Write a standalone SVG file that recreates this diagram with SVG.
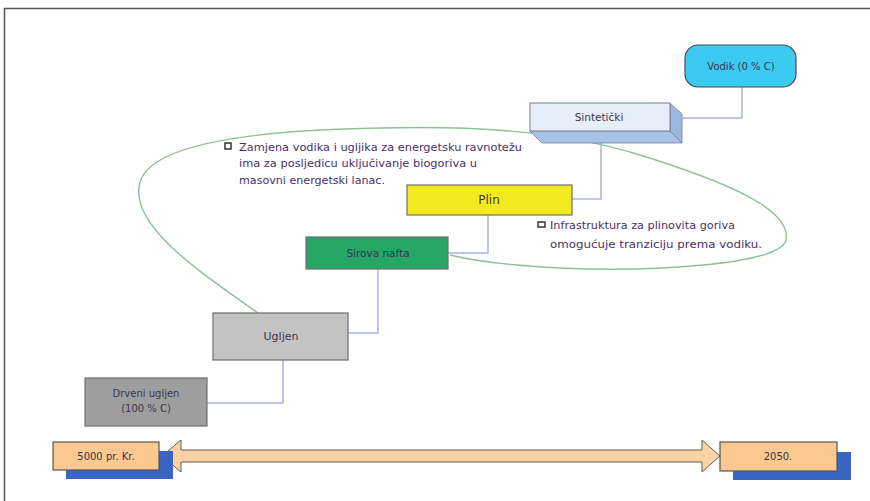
<svg xmlns="http://www.w3.org/2000/svg" width="870" height="501" viewBox="0 0 870 501">
<style>
  .lbl{font-family:"DejaVu Sans",Verdana,sans-serif;font-size:10px;fill:#3a3550;text-anchor:middle}
  .note{font-family:"DejaVu Sans",Verdana,sans-serif;font-size:11px;fill:#4a3070}
  .conn{fill:none;stroke:#a9b2e2;stroke-width:1.5}
  .box{stroke:#6e6e6e;stroke-width:1.2}
  .shadow{fill:#3a64c4}
  .tl{fill:#fbc98f;stroke:#555;stroke-width:1.2}
</style>
<rect x="0" y="0" width="870" height="501" fill="#ffffff"/>
<path d="M4.5,501 V8.5 H870" fill="none" stroke="#555" stroke-width="1.5"/>

<g id="loop">
  <path d="M258,313 C200,272 128,225 140,182 C152,142 260,130 380,128 C470,126 560,130 640,155 C720,180 792,208 786,240 C780,266 640,272 560,268 C500,265 470,260 450,255" fill="none" stroke="#8fbf9c" stroke-width="1.4"/>
</g>

<g id="connectors">
  <path class="conn" d="M742,87 V118 H682"/>
  <path class="conn" d="M601,143 V199 H572"/>
  <path class="conn" d="M488,215 V253 H448"/>
  <path class="conn" d="M378,269 V333 H348"/>
  <path class="conn" d="M283,360 V403 H207"/>
</g>

<g id="vodik">
  <rect x="685" y="45" width="111" height="42" rx="13" fill="#3ccbf0" stroke="#4a4a4a" stroke-width="1.2"/>
  <text class="lbl" x="741" y="70">Vodik (0 % C)</text>
</g>

<g id="sinteticki">
  <polygon points="530,131 670,131 682,143 542,143" fill="#a9c3e8" stroke="#7a8090" stroke-width="0.8"/>
  <polygon points="670,103 682,114 682,143 670,131" fill="#9ab8e0" stroke="#7a8090" stroke-width="0.8"/>
  <rect x="530" y="103" width="140" height="28" fill="#e6eefa" stroke="#7a8090" stroke-width="1"/>
  <text class="lbl" x="599" y="121" style="font-size:10.5px">Sintetički</text>
</g>

<g id="note1">
  <rect x="225" y="143" width="6" height="6" fill="#fff" stroke="#333" stroke-width="1.5"/>
  <text class="note" x="239" y="151" textLength="283" lengthAdjust="spacingAndGlyphs">Zamjena vodika i ugljika za energetsku ravnotežu</text>
  <text class="note" x="239" y="167" textLength="238" lengthAdjust="spacingAndGlyphs">ima za posljedicu uključivanje biogoriva u</text>
  <text class="note" x="239" y="184" textLength="146" lengthAdjust="spacingAndGlyphs">masovni energetski lanac.</text>
</g>

<g id="plin">
  <rect class="box" x="407" y="185" width="165" height="30" fill="#f2ea1e" stroke="#7a7040"/>
  <text class="lbl" x="489" y="204" style="font-size:12px;fill:#4a3a20">Plin</text>
</g>

<g id="note2">
  <rect x="538" y="222" width="7" height="5" fill="#fff" stroke="#333" stroke-width="1.5"/>
  <text class="note" x="550" y="229" textLength="185" lengthAdjust="spacingAndGlyphs">Infrastruktura za plinovita goriva</text>
  <text class="note" x="550" y="248" textLength="212" lengthAdjust="spacingAndGlyphs">omogućuje tranziciju prema vodiku.</text>
</g>

<g id="sirova-nafta">
  <rect class="box" x="306" y="237" width="142" height="32" fill="#25a867"/>
  <text class="lbl" x="378" y="257" style="font-size:10.5px">Sirova nafta</text>
</g>

<g id="ugljen">
  <rect class="box" x="213" y="313" width="135" height="47" fill="#c3c3c3"/>
  <text class="lbl" x="281" y="340" style="font-size:11px">Ugljen</text>
</g>

<g id="drveni-ugljen">
  <rect class="box" x="85" y="378" width="122" height="48" fill="#9e9e9e"/>
  <text class="lbl" x="146" y="397">Drveni ugljen</text>
  <text class="lbl" x="146" y="412">(100 % C)</text>
</g>

<g id="timeline-arrow">
  <polygon points="162,456 181,440 181,450 702,450 702,440 720,456 702,472 702,462 181,462 181,472" fill="#f9d3a6" stroke="#6a5a4a" stroke-width="1"/>
</g>

<g id="start">
  <rect class="shadow" x="66" y="451" width="107" height="28"/>
  <rect class="tl" x="53" y="442" width="106" height="28"/>
  <text class="lbl" x="106" y="460">5000 pr. Kr.</text>
</g>

<g id="end">
  <rect class="shadow" x="733" y="452" width="118" height="28"/>
  <rect class="tl" x="720" y="442" width="117" height="29"/>
  <text class="lbl" x="778" y="460">2050.</text>
</g>
</svg>
